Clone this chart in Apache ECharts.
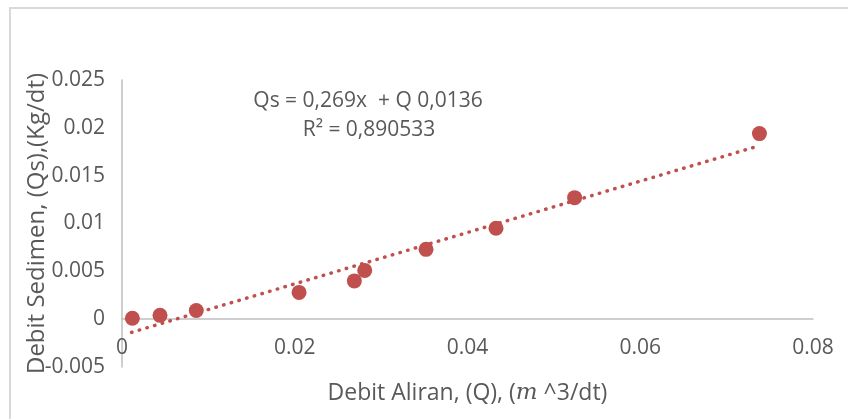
<!DOCTYPE html>
<html>
<head>
<meta charset="utf-8">
<script src="https://cdn.jsdelivr.net/npm/echarts@6/dist/echarts.min.js"></script>
<style>
html,body{margin:0;padding:0;background:#fff;}
#c{width:848px;height:419px;}
</style>
</head>
<body>
<div id="c"></div>
<script>
// Observed data (Debit Aliran Q, Debit Sedimen Qs)
var debitAliran = [0.0012, 0.0044, 0.0086, 0.0205, 0.0269, 0.0281, 0.0352, 0.0433, 0.0524, 0.0738];
var debitSedimen = [0.0001, 0.0004, 0.0009, 0.0028, 0.0040, 0.0051, 0.0073, 0.0095, 0.0127, 0.0194];
// Trendline end points
var trendX = [0.0011, 0.0732];
var trendY = [-0.00138, 0.01797];
var xTicks = [0, 0.02, 0.04, 0.06, 0.08];
var yTicks = [-0.005, 0, 0.005, 0.01, 0.015, 0.02, 0.025];
var eqLine1 = 'Qs = 0,269x  + Q 0,0136';
var eqLine2 = 'R² = 0,890533';

var points = debitAliran.map(function (x, i) { return [x, debitSedimen[i]]; });
var trend = trendX.map(function (x, i) { return [x, trendY[i]]; });

var textColor = '#595959';
var font = '"Open Sans", sans-serif';
var chart = echarts.init(document.getElementById('c'), null, {renderer: 'canvas'});
chart.setOption({
  animation: false,
  backgroundColor: '#fff',
  grid: {left: 122, right: 35, top: 80, bottom: 52, containLabel: false, outerBoundsMode: 'none'},
  xAxis: {
    type: 'value',
    min: xTicks[0], max: xTicks[xTicks.length - 1], interval: 0.02,
    axisLine: {onZero: true, lineStyle: {color: '#BFBFBF', width: 1.5}},
    axisTick: {show: false},
    splitLine: {show: false},
    axisLabel: {color: textColor, fontFamily: font, fontSize: 21, margin: -29,
      formatter: function (v) { return String(+v.toFixed(3)); }},
    name: '{a|Debit Aliran, (Q), (}{m|m}{a| ^3/dt)}',
    nameLocation: 'middle', nameGap: 15, nameMoveOverlap: false,
    nameTextStyle: {
      rich: {
        a: {color: textColor, fontFamily: font, fontSize: 23},
        m: {color: textColor, fontFamily: '"DejaVu Serif", serif', fontStyle: 'italic', fontSize: 23}
      }
    }
  },
  yAxis: {
    type: 'value',
    min: yTicks[0], max: yTicks[yTicks.length - 1], interval: 0.005,
    axisLine: {show: true, lineStyle: {color: '#BFBFBF', width: 1.5}},
    axisTick: {show: false},
    splitLine: {show: false},
    axisLabel: {color: textColor, fontFamily: font, fontSize: 21, margin: 17,
      formatter: function (v) { return String(+v.toFixed(3)); }},
    name: 'Debit Sedimen, (Qs),(Kg/dt)',
    nameLocation: 'middle', nameGap: 73, nameRotate: 90, nameMoveOverlap: false,
    nameTextStyle: {color: textColor, fontFamily: font, fontSize: 24}
  },
  series: [
    {
      type: 'scatter', data: points, symbolSize: 15,
      itemStyle: {color: '#C0504D', opacity: 1}, z: 2
    },
    {
      type: 'line', data: trend, showSymbol: false, symbol: 'none',
      lineStyle: {color: '#C0504D', width: 3.5, type: [0.5, 7.5], cap: 'round'},
      z: 3, silent: true
    }
  ],
  graphic: [
    {type: 'rect', shape: {x: 10, y: 8, width: 900, height: 500},
      style: {fill: 'none', stroke: '#D9D9D9', lineWidth: 2}, silent: true},
    {type: 'text', x: 368, y: 101, style: {text: eqLine1, fill: textColor,
      font: '21px "Open Sans", sans-serif', textAlign: 'center', textVerticalAlign: 'middle'}},
    {type: 'text', x: 369, y: 130, style: {text: eqLine2, fill: textColor,
      font: '21px "Open Sans", sans-serif', textAlign: 'center', textVerticalAlign: 'middle'}}
  ]
});
</script>
</body>
</html>
